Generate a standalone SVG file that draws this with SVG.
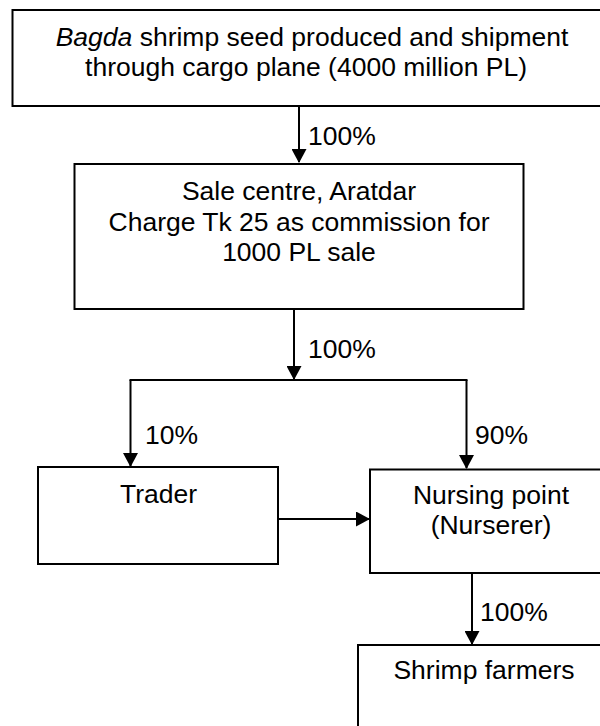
<svg xmlns="http://www.w3.org/2000/svg" width="600" height="726" viewBox="0 0 600 726">
<style>
.box{fill:#fff;stroke:#000;stroke-width:2}
.t{font-family:"Liberation Sans",Arial,sans-serif;font-size:26.5px;fill:#000;text-anchor:middle}
.l{font-family:"Liberation Sans",Arial,sans-serif;font-size:26.5px;fill:#000}
.c{stroke:#000;stroke-width:2;fill:none}
</style>
<defs>
<marker id="ah" viewBox="0 0 14 15" refX="13" refY="7.5" markerWidth="14" markerHeight="15" markerUnits="userSpaceOnUse" orient="auto">
<path d="M0,0 L14,7.5 L0,15 Z" fill="#000"/>
</marker>
</defs>
<rect width="600" height="726" fill="#fff"/>
<g id="node-source">
<rect class="box" x="12.5" y="10" width="600" height="96"/>
<text class="t" x="312" y="46"><tspan font-style="italic">Bagda</tspan> shrimp seed produced and shipment</text>
<text class="t" x="306" y="76">through cargo plane (4000 million PL)</text>
</g>
<g id="node-sale">
<rect class="box" x="74.5" y="164" width="449" height="145"/>
<text class="t" x="299" y="200">Sale centre, Aratdar</text>
<text class="t" x="299" y="231">Charge Tk 25 as commission for</text>
<text class="t" x="299" y="261">1000 PL sale</text>
</g>
<g id="node-trader">
<rect class="box" x="38" y="467" width="240" height="97"/>
<text class="t" x="158.5" y="503">Trader</text>
</g>
<g id="node-nursing">
<rect class="box" x="370" y="469.5" width="240" height="103.5"/>
<text class="t" x="491" y="504">Nursing point</text>
<text class="t" x="491" y="534">(Nurserer)</text>
</g>
<g id="node-farmers">
<rect class="box" x="358" y="645" width="260" height="100"/>
<text class="t" x="484" y="679">Shrimp farmers</text>
</g>
<g id="connectors">
<line class="c" x1="299" y1="106" x2="299" y2="162" marker-end="url(#ah)"/>
<text class="l" x="308" y="145">100%</text>
<line class="c" x1="294" y1="309" x2="294" y2="379" marker-end="url(#ah)"/>
<text class="l" x="308" y="358">100%</text>
<line class="c" x1="129.5" y1="380" x2="467.5" y2="380"/>
<line class="c" x1="130.5" y1="380" x2="130.5" y2="466" marker-end="url(#ah)"/>
<line class="c" x1="466.5" y1="380" x2="466.5" y2="468" marker-end="url(#ah)"/>
<text class="l" x="145" y="444">10%</text>
<text class="l" x="475" y="444">90%</text>
<line class="c" x1="278" y1="519" x2="369" y2="519" marker-end="url(#ah)"/>
<line class="c" x1="472" y1="573" x2="472" y2="644" marker-end="url(#ah)"/>
<text class="l" x="480" y="621">100%</text>
</g>
</svg>
